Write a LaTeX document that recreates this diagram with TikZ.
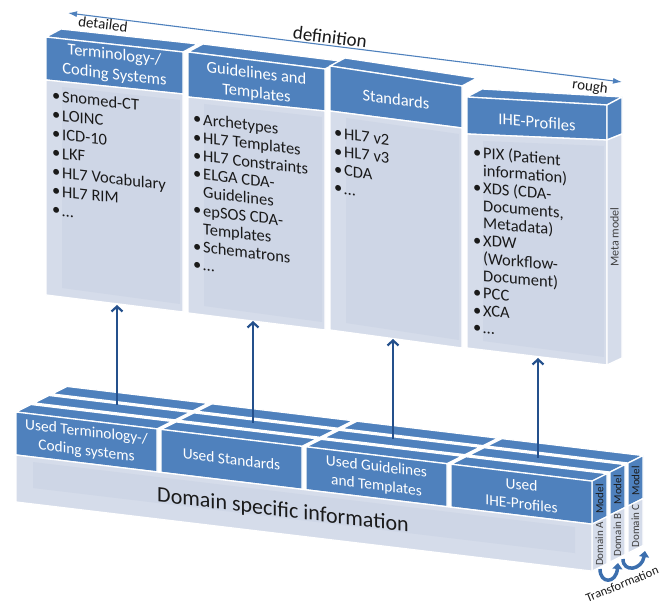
\documentclass[tikz,border=0pt]{standalone}
\usepackage{fontspec}
\setmainfont{Carlito}
\usetikzlibrary{arrows.meta}
\definecolor{hdr}{HTML}{4F81BD}
\definecolor{bodyc}{HTML}{D5DCEA}
\definecolor{bodyin}{HTML}{CED6E6}
\definecolor{arrc}{HTML}{24508C}
\definecolor{trc}{HTML}{3C6FAE}
\definecolor{txtc}{HTML}{1A1A1A}
\definecolor{domc}{HTML}{404040}
\newcommand\bul{\makebox[10pt][l]{\textbullet}}
\newcommand\cont{\hspace*{10pt}}
\newcommand\fsz[2]{\fontsize{#1}{#2}\selectfont}
\tikzset{
 face/.style={draw=white, line width=1.3pt, line join=round},
 hface/.style={face, fill=hdr},
 bface/.style={face, fill=bodyc},
 inface/.style={fill=bodyin},
 htxt/.style={text=white, align=center, inner sep=0pt, font=\fsz{16.5}{20}},
 ltxt/.style={text=white, align=center, inner sep=0pt, font=\fsz{15.4}{19}},
 items/.style={text=txtc, align=left, anchor=north west, inner sep=0pt},
 sidetxt/.style={rotate=90, inner sep=0pt, font=\fsz{11}{13}},
 uparr/.style={draw=arrc, line width=2.2pt, -{Straight Barb[length=5pt,width=11pt]}},
 defarr/.style={draw=hdr, line width=1.1pt, {Latex[length=9pt,width=6pt]}-{Latex[length=9pt,width=6pt]}},
 trarr/.style={draw=trc, line width=3.5pt, -{Triangle[length=6pt,width=10pt]}},
 lbl/.style={text=txtc, inner sep=0pt}
}
\begin{document}
\begin{tikzpicture}[x=1pt,y=-1pt]
\useasboundingbox (0,0) rectangle (665,604);

% ---------- upper wall (meta model) ----------
% column 1
\path[hface] (46,37) -- (61,29) -- (198,44) -- (183,52) -- cycle;
\path[hface] (46,37) -- (183,52) -- (183,94) -- (46,80) -- cycle;
\path[bface] (46,80) -- (183,94) -- (183,312) -- (46,295) -- cycle;
\path[inface] (62,87) -- (180,100) -- (180,304) -- (62,288) -- cycle;
% column 2
\path[hface] (188,52) -- (203,44) -- (340,61) -- (325,69) -- cycle;
\path[hface] (188,52) -- (325,69) -- (325,111) -- (188,97) -- cycle;
\path[bface] (188,97) -- (325,111) -- (325,330) -- (188,313) -- cycle;
\path[inface] (204,104) -- (322,117) -- (322,322) -- (204,306) -- cycle;
% column 3
\path[hface] (330,66) -- (345,58) -- (477,78) -- (462,86) -- cycle;
\path[hface] (330,66) -- (462,86) -- (462,128) -- (330,111) -- cycle;
\path[bface] (330,111) -- (462,128) -- (462,348) -- (330,330) -- cycle;
\path[inface] (346,118) -- (459,134) -- (459,340) -- (346,323) -- cycle;
% column 4
\path[hface] (467,97) -- (482,89) -- (622,97) -- (607,105) -- cycle;
\path[hface] (467,97) -- (607,105) -- (607,140) -- (467,134) -- cycle;
\path[bface] (467,134) -- (607,140) -- (607,365) -- (467,348) -- cycle;
\path[inface] (483,141) -- (604,146) -- (604,357) -- (483,341) -- cycle;
\path[hface] (607,105) -- (622,97) -- (622,134) -- (607,140) -- cycle;
\path[bface] (607,140) -- (622,134) -- (622,358) -- (607,365) -- cycle;
\node[sidetxt, text=domc, font=\fsz{12}{14}] (meta) at (614.5,237) {Meta model};

% texts of the columns
\begin{scope}[shift={(46,37)}, yslant=-0.115, transform shape]
 \node[htxt] (h1) at (68.5,20.5) {Terminology-/\\Coding Systems};
 \node[items, font=\fsz{16.5}{19}] (l1) at (6,49) {\rule{0pt}{14pt}\bul Snomed-CT\\\bul LOINC\\\bul ICD-10\\\bul LKF\\\bul HL7 Vocabulary\\\bul HL7 RIM\\\bul …};
\end{scope}
\begin{scope}[shift={(188,52)}, yslant=-0.124, transform shape]
 \node[htxt] (h2) at (68.5,23.5) {Guidelines and\\Templates};
 \node[items, font=\fsz{16.5}{18.2}] (l2) at (5,57) {\rule{0pt}{14pt}\bul Archetypes\\\bul HL7 Templates\\\bul HL7 Constraints\\\bul ELGA CDA-\\\cont Guidelines\\\bul epSOS CDA-\\\cont Templates\\\bul Schematrons\\\bul …};
\end{scope}
\begin{scope}[shift={(330,66)}, yslant=-0.14, transform shape]
 \node[htxt] (h3) at (66,24) {Standards};
 \node[items, font=\fsz{16.5}{18.3}] (l3) at (4,57) {\rule{0pt}{14pt}\bul HL7 v2\\\bul HL7 v3\\\bul CDA\\\bul …};
\end{scope}
\begin{scope}[shift={(467,97)}, yslant=-0.09, transform shape]
 \node[htxt] (h4) at (70,19) {IHE-Profiles};
 \node[items, font=\fsz{16.5}{17.5}] (l4) at (6,46) {\rule{0pt}{14pt}\bul PIX (Patient\\\cont information)\\\bul XDS (CDA-\\\cont Documents,\\\cont Metadata)\\\bul XDW\\\cont (Workflow-\\\cont Document)\\\bul PCC\\\bul XCA\\\bul …};
\end{scope}

% definition axis
\coordinate (dl) at (68,13);
\coordinate (dr) at (622,82);
\draw[defarr] (dl) -- (dr);
\node[lbl, font=\fsz{15}{18}, rotate=-7.1] (det) at (103,24) {detailed};
\node[lbl, font=\fsz{19}{22}, rotate=-7.1] (def) at (330,37) {definition};
\node[lbl, font=\fsz{15}{18}, rotate=-7.1] (rgh) at (590,87) {rough};

% ---------- lower block (domain models) ----------
\begin{scope}[shift={(16,412)}, yslant=-0.12]
 \foreach \k/\dm in {2/C,1/B,0/A}{
  \begin{scope}[shift={(18*\k,-11.2*\k)}]
   \foreach \a/\b in {0/141,145/286,290/431,435/576}
     \path[hface] (\a,0) -- (\b,0) -- (\b+15,-9.3) -- (\a+15,-9.3) -- cycle;
   \path[hface] (576,0) -- (591,-9.3) -- (591,33.7) -- (576,43) -- cycle;
   \path[bface] (576,43) -- (591,33.7) -- (591,80.7) -- (576,90) -- cycle;
   \node[sidetxt, text=txtc] (model\dm) at (583.5,16.9) {Model};
   \node[sidetxt, text=domc] (dom\dm) at (583.5,61.9) {Domain \dm};
  \end{scope}
 }
 \path[hface] (0,0) rectangle (141,43);
 \path[hface] (145,0) rectangle (286,43);
 \path[hface] (290,0) rectangle (431,43);
 \path[hface] (435,0) rectangle (576,43);
 \path[bface] (0,43) rectangle (576,90);
 \path[inface] (17,48) rectangle (559,74);
 \node[ltxt, transform shape] (u1) at (70.5,21.5) {Used Terminology-/\\Coding systems};
 \node[ltxt, transform shape] (u2) at (215.5,21.5) {Used Standards};
 \node[ltxt, transform shape] (u3) at (360.5,21.5) {Used Guidelines\\and Templates};
 \node[ltxt, transform shape] (u4) at (505.5,21.5) {Used\\IHE-Profiles};
 \node[lbl, transform shape, font=\fsz{22}{26}] (dsi) at (267,67) {Domain specific information};
\end{scope}

% ---------- arrows ----------
\coordinate (s1) at (117,405); \coordinate (e1) at (117,305);
\coordinate (s2) at (253,423); \coordinate (e2) at (253,321);
\coordinate (s3) at (393,439); \coordinate (e3) at (393,339);
\coordinate (s4) at (538,458); \coordinate (e4) at (538,358);
\draw[uparr] (s1) -- (e1);
\draw[uparr] (s2) -- (e2);
\draw[uparr] (s3) -- (e3);
\draw[uparr] (s4) -- (e4);

% transformation arrows
\coordinate (ta1) at (600,569); \coordinate (tb1) at (618,563);
\coordinate (ta2) at (623,559); \coordinate (tb2) at (645,551);
\draw[trarr] (ta1) .. controls (600,584) and (616,584) .. (tb1);
\draw[trarr] (ta2) .. controls (623,573) and (642,570) .. (tb2);
\node[lbl, font=\fsz{12.5}{14}, rotate=22] (trf) at (622,584) {Transformation};
\end{tikzpicture}
\end{document}
